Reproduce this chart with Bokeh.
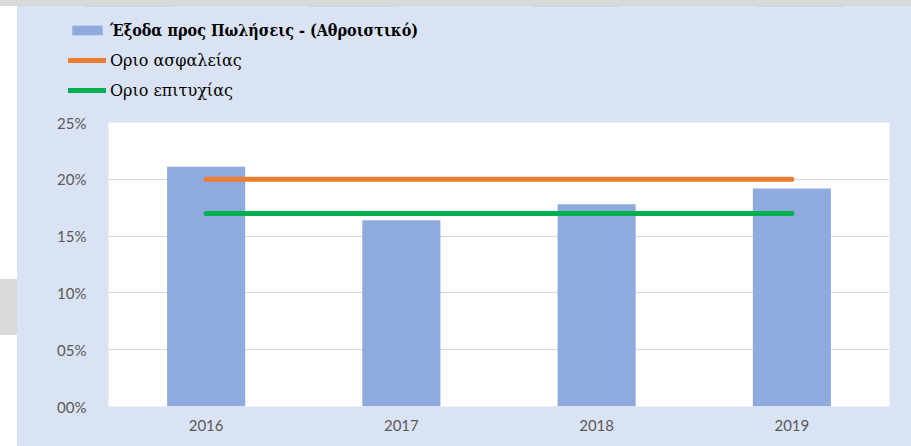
from bokeh.plotting import figure
from bokeh.models import ColumnDataSource, Legend, LegendItem, FactorRange, FixedTicker, Div
from bokeh.layouts import row, column
from bokeh.embed import file_html
from bokeh.resources import INLINE

years = ["2016", "2017", "2018", "2019"]
sales_expense = [0.211, 0.164, 0.178, 0.192]
safety_limit = [0.20, 0.20, 0.20, 0.20]
success_limit = [0.17, 0.17, 0.17, 0.17]
y_ticks = [0.0, 0.05, 0.10, 0.15, 0.20, 0.25]
y_tick_labels = ["00%", "05%", "10%", "15%", "20%", "25%"]
legend_labels = ["Έξοδα προς Πωλήσεις - (Αθροιστικό)", "Οριο ασφαλείας", "Οριο επιτυχίας"]

BG = "#DAE3F3"
BAR = "#8FAADC"
ORANGE = "#ED7D31"
GREEN = "#00B050"
TICK = "#595959"
GREY = "#D9D9D9"

src = ColumnDataSource(dict(year=years, value=sales_expense,
                            safety=safety_limit, success=success_limit))

# main chart
p = figure(x_range=FactorRange(*years), y_range=(0, 0.25),
           width=894, height=336, output_backend="svg", toolbar_location=None,
           background_fill_color="white", border_fill_color=BG,
           min_border_left=91, min_border_right=22, min_border_top=12,
           min_border_bottom=40, margin=0)
p.outline_line_color = None

p.vbar(x="year", top="value", width=0.4, source=src,
       fill_color=BAR, line_color=None)
p.line(x="year", y="safety", source=src, line_width=5,
       line_color=ORANGE, line_cap="round")
p.line(x="year", y="success", source=src, line_width=5,
       line_color=GREEN, line_cap="round")

p.xgrid.grid_line_color = None
p.ygrid.grid_line_color = GREY
p.ygrid.grid_line_width = 1

p.yaxis.ticker = FixedTicker(ticks=y_ticks)
p.yaxis.major_label_overrides = {t: l for t, l in zip(y_ticks, y_tick_labels)}

for ax in (p.xaxis[0], p.yaxis[0]):
    ax.axis_line_color = None
    ax.major_tick_line_color = None
    ax.minor_tick_line_color = None
    ax.major_label_text_color = TICK
    ax.major_label_text_font = "Lato"
    ax.major_label_text_font_size = "15px"
p.xaxis.major_label_standoff = 7
p.yaxis.major_label_standoff = 16

# legend strip: same series, drawn out of view, only their legend shows
lf = figure(width=894, height=104, x_range=FactorRange(*years), y_range=(-1.0, -0.5),
            output_backend="svg", toolbar_location=None,
            x_axis_type=None, y_axis_type=None,
            background_fill_color=BG, border_fill_color=BG,
            min_border=0, min_border_left=0, min_border_right=0,
            min_border_top=0, min_border_bottom=0, margin=0)
lf.outline_line_color = None
lf.grid.visible = False
lb = lf.vbar(x="year", top="value", width=0.4, source=src, fill_color=BAR, line_color=None)
ll1 = lf.line(x="year", y="safety", source=src, line_width=5, line_color=ORANGE, line_cap="round")
ll2 = lf.line(x="year", y="success", source=src, line_width=5, line_color=GREEN, line_cap="round")

def make_legend(items, loc, bold):
    return Legend(items=items, location=loc, orientation="vertical",
                  background_fill_alpha=0, border_line_alpha=0,
                  label_text_font="DejaVu Serif Condensed" if bold else "DejaVu Serif",
                  label_text_font_size="16px",
                  label_text_color="black",
                  label_text_font_style="bold" if bold else "normal",
                  glyph_width=38, glyph_height=12, label_height=20,
                  label_standoff=4, spacing=10, padding=0, margin=0)

lg1 = make_legend([LegendItem(label=legend_labels[0], renderers=[lb])], (51, 70), True)
lg2 = make_legend([LegendItem(label=legend_labels[1], renderers=[ll1]),
                   LegendItem(label=legend_labels[2], renderers=[ll2])], (51, 10), False)
lf.add_layout(lg1, "center")
lf.add_layout(lg2, "center")

top_strip = Div(text="", width=911, height=6, margin=0, styles={"background": GREY})
left_a = Div(text="", width=17, height=104, margin=0, styles={"background": "white"})
left_b = Div(text="", width=17, height=336, margin=0,
             styles={"background": "linear-gradient(to bottom, white 0px, white 169px, #D9D9D9 169px, #D9D9D9 225px, white 225px)"})

layout = column(top_strip,
                row(left_a, lf, spacing=0, styles={"background": BG}),
                row(left_b, p, spacing=0, styles={"background": BG}),
                spacing=0)
open("out.html", "w").write(file_html(layout, INLINE))
